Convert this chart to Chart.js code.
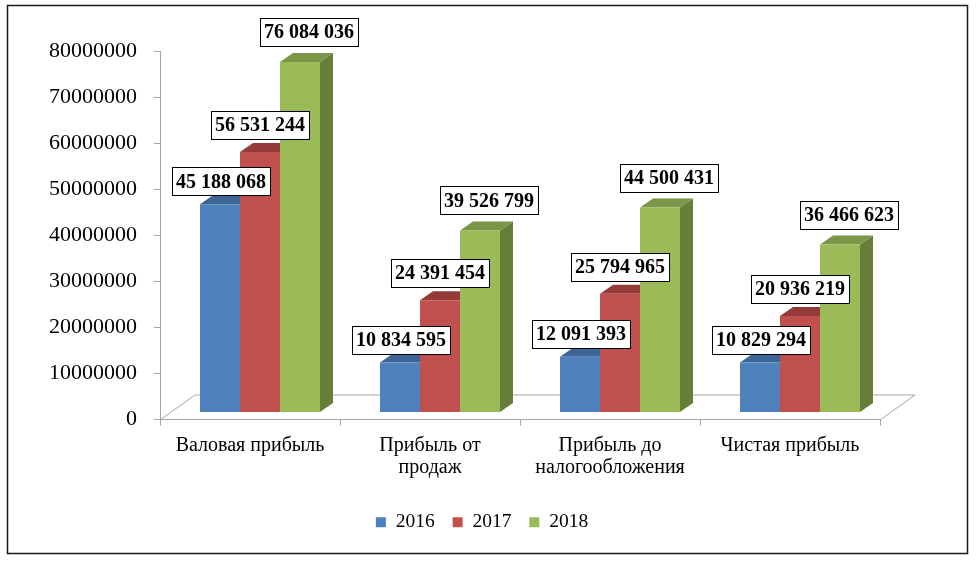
<!DOCTYPE html>
<html>
<head>
<meta charset="utf-8">
<script src="https://cdn.jsdelivr.net/npm/chart.js@4/dist/chart.umd.min.js"></script>
<style>
html,body{margin:0;padding:0;background:#fff;}
#wrap{width:976px;height:564px;position:relative;}
</style>
</head>
<body>
<div id="wrap"><canvas id="c" width="976" height="564"></canvas></div>
<script>
// ---- data ----
const categories = [["Валовая прибыль"], ["Прибыль от", "продаж"], ["Прибыль до", "налогообложения"], ["Чистая прибыль"]];
const seriesNames = ["2016", "2017", "2018"];
const values2016 = [45188068, 10834595, 12091393, 10829294];
const values2017 = [56531244, 24391454, 25794965, 20936219];
const values2018 = [76084036, 39526799, 44500431, 36466623];
const yTickValues = [0, 10000000, 20000000, 30000000, 40000000, 50000000, 60000000, 70000000, 80000000];

// ---- style ----
const SERIF = '"Liberation Serif", "Times New Roman", serif';
const frontColors = ["#4F81BD", "#C0504D", "#9BBB59"];
const topColors = ["#3D6696", "#943B39", "#7B9646"];
const sideColors = ["#34587F", "#7E3230", "#677E38"];
const AXIS_GRAY = "#A6A6A6";
const FLOOR = { dx: 35, dy: -25 };
const SHIFT = { dx: 10, dy: -7 };
const BDEPTH = { dx: 13, dy: -9 };
const LABEL_OFF = [{ dx: 1, dy: -23 }, { dx: 0, dy: -27 }, { dx: 9, dy: -30 }];

function fmt(v) { return String(v).replace(/\B(?=(\d{3})+(?!\d))/g, " "); }

const threeD = {
  id: "threeD",
  beforeDraw(chart) {
    const ctx = chart.ctx, a = chart.chartArea;
    ctx.save();
    ctx.strokeStyle = AXIS_GRAY;
    ctx.lineWidth = 1;
    ctx.beginPath();
    ctx.moveTo(a.left, a.bottom + 0.5);
    ctx.lineTo(a.left + FLOOR.dx, a.bottom + FLOOR.dy + 0.5);
    ctx.lineTo(a.right + FLOOR.dx, a.bottom + FLOOR.dy + 0.5);
    ctx.lineTo(a.right, a.bottom + 0.5);
    ctx.stroke();
    ctx.restore();
  },
  beforeDatasetsDraw(chart) {
    const ctx = chart.ctx;
    ctx.save();
    chart.data.datasets.forEach((ds, i) => {
      const meta = chart.getDatasetMeta(i);
      meta.data.forEach(el => {
        el.x += SHIFT.dx; el.y += SHIFT.dy; el.base += SHIFT.dy;
        const l = el.x - el.width / 2, r = el.x + el.width / 2, t = el.y, b = el.base;
        // side
        ctx.fillStyle = sideColors[i];
        ctx.beginPath();
        ctx.moveTo(r, t); ctx.lineTo(r + BDEPTH.dx, t + BDEPTH.dy);
        ctx.lineTo(r + BDEPTH.dx, b + BDEPTH.dy); ctx.lineTo(r, b);
        ctx.closePath(); ctx.fill();
        // top
        ctx.fillStyle = topColors[i];
        ctx.beginPath();
        ctx.moveTo(l, t); ctx.lineTo(l + BDEPTH.dx, t + BDEPTH.dy);
        ctx.lineTo(r + BDEPTH.dx, t + BDEPTH.dy); ctx.lineTo(r, t);
        ctx.closePath(); ctx.fill();
      });
    });
    ctx.restore();
  },
  afterDatasetsDraw(chart) {
    const ctx = chart.ctx;
    ctx.save();
    ctx.font = "bold 20px " + SERIF;
    ctx.textAlign = "center";
    ctx.textBaseline = "middle";
    chart.data.datasets.forEach((ds, i) => {
      const meta = chart.getDatasetMeta(i);
      meta.data.forEach((el, j) => {
        const txt = fmt(ds.data[j]);
        const w = ctx.measureText(txt).width + 8, h = 28;
        const cx = el.x + LABEL_OFF[i].dx, cy = el.y + LABEL_OFF[i].dy;
        ctx.fillStyle = "#fff";
        ctx.fillRect(Math.round(cx - w / 2), Math.round(cy - h / 2), Math.round(w), h);
        ctx.strokeStyle = "#000";
        ctx.lineWidth = 1;
        ctx.strokeRect(Math.round(cx - w / 2) + 0.5, Math.round(cy - h / 2) + 0.5, Math.round(w), h);
        ctx.fillStyle = "#000";
        ctx.fillText(txt, cx, cy + 1);
      });
    });
    // undo shift
    chart.data.datasets.forEach((ds, i) => {
      chart.getDatasetMeta(i).data.forEach(el => { el.x -= SHIFT.dx; el.y -= SHIFT.dy; el.base -= SHIFT.dy; });
    });
    ctx.restore();
  },
  afterDraw(chart) {
    const ctx = chart.ctx;
    ctx.save();
    ctx.strokeStyle = "#1a1a1a";
    ctx.lineWidth = 1.5;
    ctx.strokeRect(7.5, 5.5, 960, 548);
    ctx.restore();
  }
};

const valueSets = [values2016, values2017, values2018];

new Chart(document.getElementById("c"), {
  type: "bar",
  data: {
    labels: categories,
    datasets: seriesNames.map((n, i) => ({
      label: n,
      data: valueSets[i],
      backgroundColor: frontColors[i],
      borderWidth: 0,
      categoryPercentage: 0.6667,
      barPercentage: 1.0
    }))
  },
  options: {
    responsive: false,
    animation: false,
    devicePixelRatio: 1,
    layout: { padding: { top: 51, left: 0, right: 12, bottom: 22 } },
    plugins: {
      tooltip: { enabled: false },
      legend: {
        position: "bottom",
        labels: {
          color: "#000",
          font: { family: SERIF, size: 19.5 },
          boxWidth: 10,
          boxHeight: 10,
          padding: 18
        }
      }
    },
    scales: {
      x: {
        grid: { display: true, drawOnChartArea: false, drawTicks: true, tickLength: 6, color: AXIS_GRAY, offset: true },
        border: { display: true, color: AXIS_GRAY },
        ticks: { color: "#000", font: { family: SERIF, size: 20, lineHeight: 1.1 }, padding: 9, maxRotation: 0, autoSkip: false },
        afterFit: s => { s.height = 75; }
      },
      y: {
        min: 0,
        max: 80000000,
        afterBuildTicks: s => { s.ticks = yTickValues.map(v => ({ value: v })); },
        grid: { display: true, drawOnChartArea: false, drawTicks: true, tickLength: 6, color: AXIS_GRAY },
        border: { display: true, color: AXIS_GRAY },
        ticks: { color: "#000", font: { family: SERIF, size: 22 }, padding: 17, callback: v => String(v) },
        afterFit: s => { s.width = 160; }
      },
      yR: {
        position: "right",
        display: true,
        grid: { display: false },
        border: { display: false },
        ticks: { display: false },
        afterFit: s => { s.width = 84; }
      }
    }
  },
  plugins: [threeD]
});
</script>
</body>
</html>
